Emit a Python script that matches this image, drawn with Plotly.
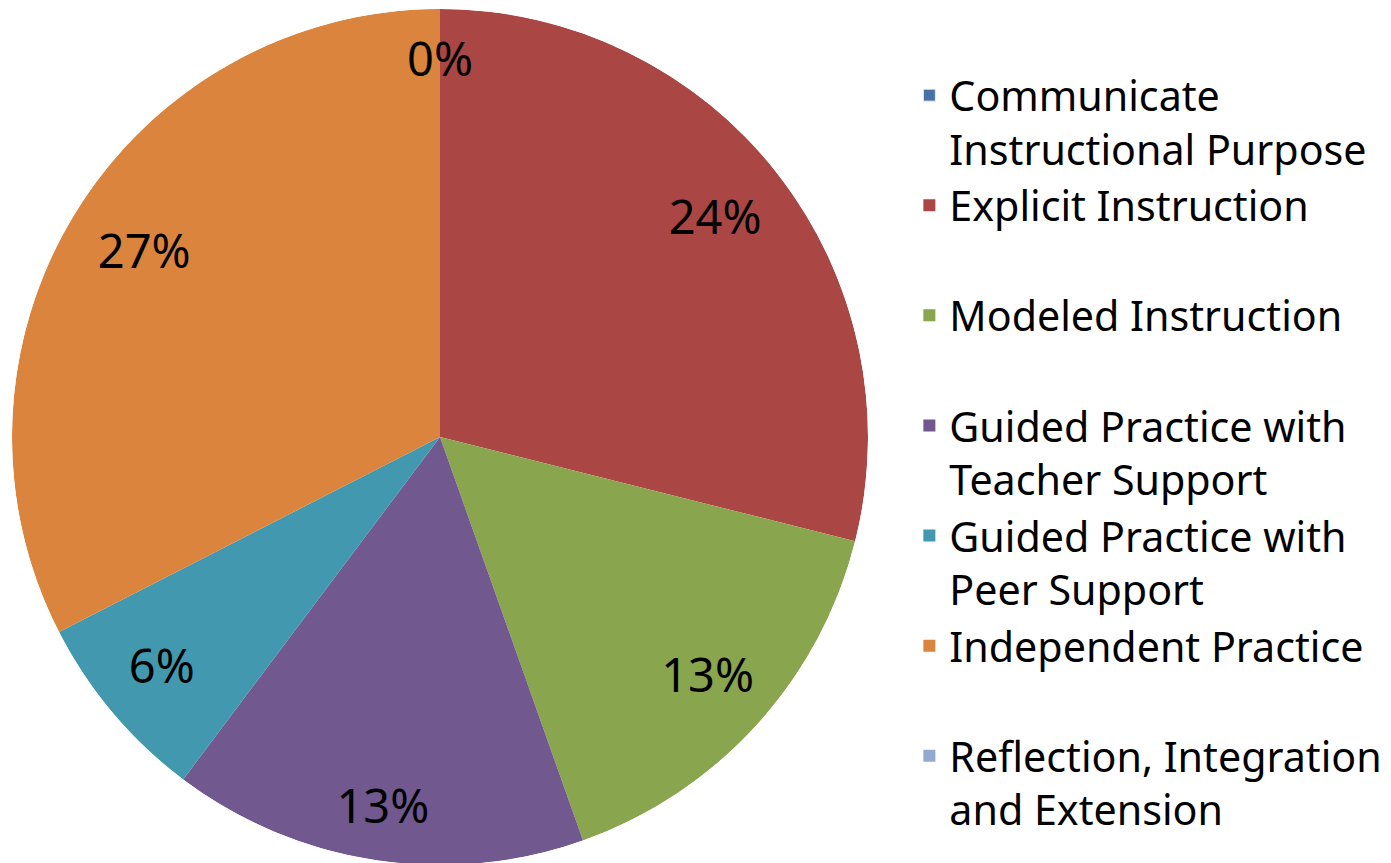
import plotly.graph_objects as go

categories = [
    "Communicate<br>Instructional Purpose",
    "Explicit Instruction<br> ",
    "Modeled Instruction<br> ",
    "Guided Practice with<br>Teacher Support",
    "Guided Practice with<br>Peer Support",
    "Independent Practice<br> ",
    "Reflection, Integration<br>and Extension",
]
shares = [0.00, 0.24, 0.13, 0.13, 0.06, 0.27, 0.00]
show_label = [True, True, True, True, True, True, False]
colors = ["#4572A7", "#AA4643", "#89A54E", "#71588F", "#4198AF", "#DB843D", "#93A9CF"]

W, H = 1391, 863
cx, cy, R = 432, 429, 428   # pie centre / radius in figure pixels
# radial spot of each data label (fraction of the radius), like Excel's best fit
label_r = [0.87, 0.815, 0.845, 0.885, 0.85, 0.81, 0.85]

total = sum(shares)
mids, widths = [], []
acc = 0.0
for s in shares:
    widths.append(s / total * 360)
    mids.append((acc + s / 2) / total * 360)
    acc += s

fig = go.Figure()
for name, s, th, wd, col in zip(categories, shares, mids, widths, colors):
    fig.add_trace(go.Barpolar(
        name=name,
        r=[1], theta=[th], width=[wd],
        marker=dict(color=col,
                    line=dict(width=1 if (s == 0 and th == 0) else 0,
                              color="rgba(255,235,225,0.9)")),
        hovertemplate=f"{s:.0%}<extra></extra>",
    ))

# data labels
fig.add_trace(go.Scatterpolar(
    r=label_r,
    theta=mids,
    mode="text",
    text=[f"{s:.0%}" if sh else "" for s, sh in zip(shares, show_label)],
    textposition="middle center",
    textfont=dict(family="Noto Sans", size=47, color="black"),
    showlegend=False,
    hoverinfo="skip",
    cliponaxis=False,
))

fig.update_layout(
    width=W, height=H,
    margin=dict(l=0, r=0, t=0, b=0),
    paper_bgcolor="white",
    polar=dict(
        domain=dict(x=[(cx - R) / W, (cx + R) / W],
                    y=[(H - cy - R) / H, (H - cy + R) / H]),
        bgcolor="rgba(0,0,0,0)",
        barmode="overlay",
        bargap=0,
        radialaxis=dict(range=[0, 1], visible=False),
        angularaxis=dict(rotation=90, direction="clockwise",
                         showline=False, showgrid=False,
                         showticklabels=False, ticks=""),
    ),
    showlegend=True,
    legend=dict(
        x=0.648, y=0.9376, xanchor="left", yanchor="top",
        valign="top",
        font=dict(family="Noto Sans", size=41.2, color="black"),
        tracegroupgap=0,
        bgcolor="rgba(0,0,0,0)",
    ),
)

fig.write_html("out.html")
